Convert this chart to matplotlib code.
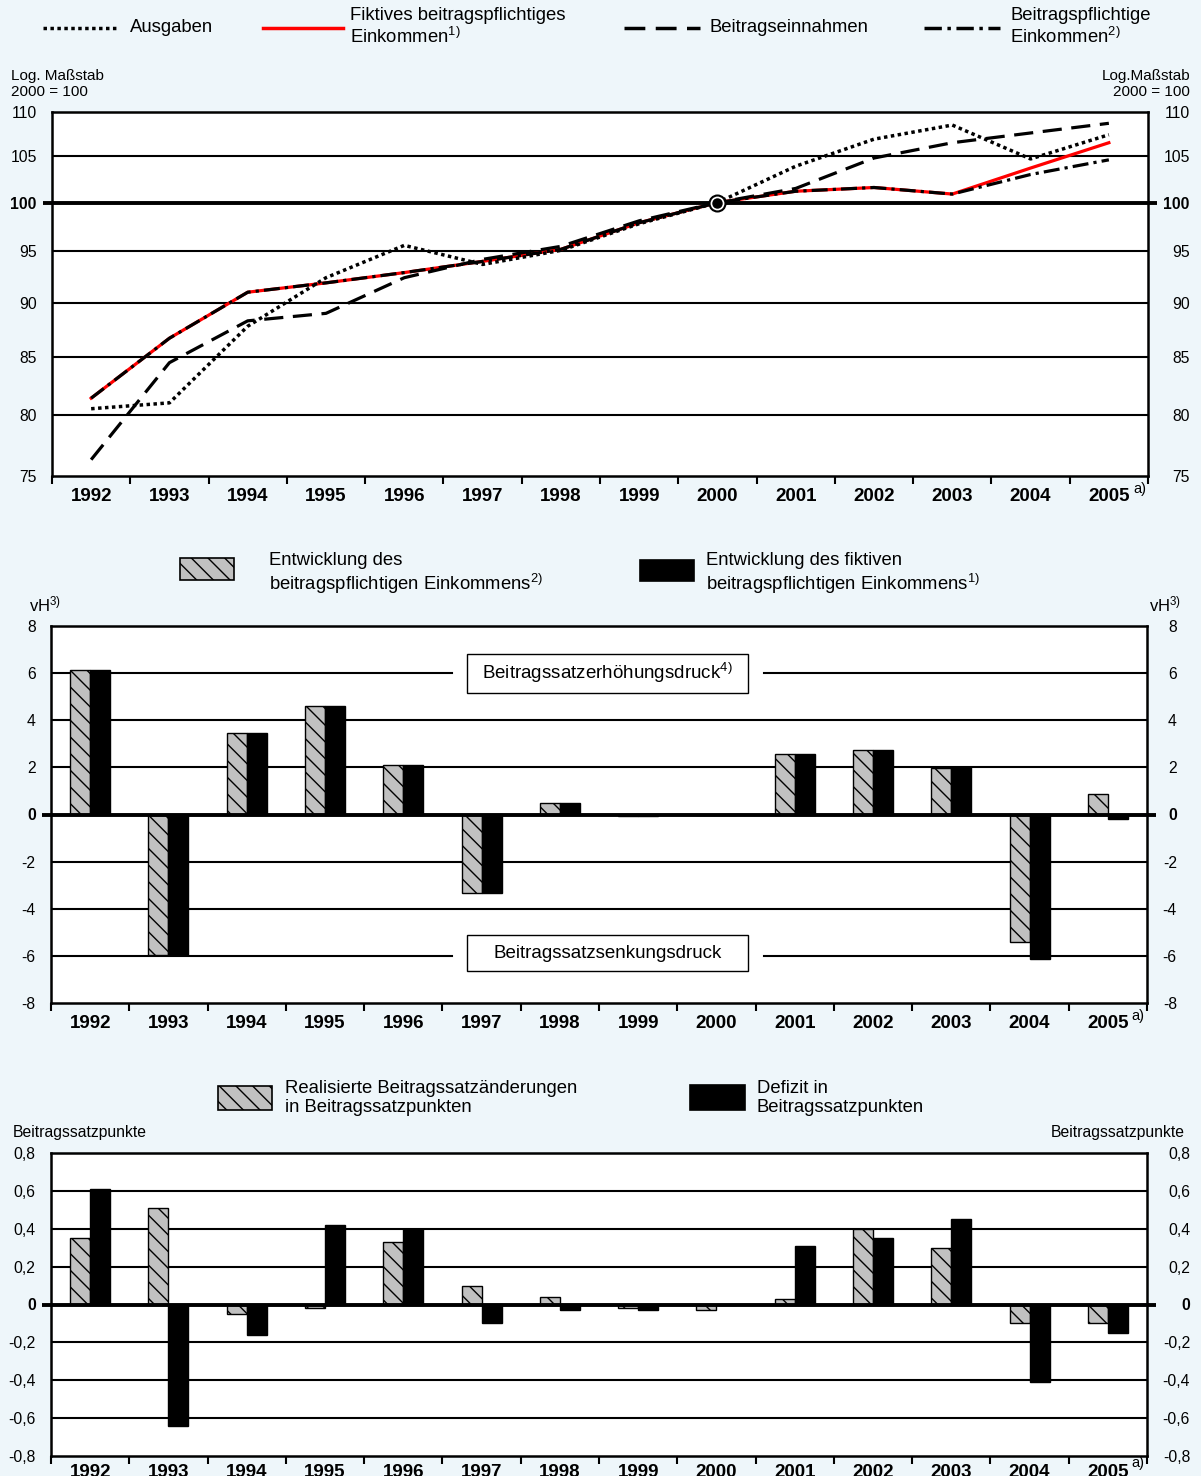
import matplotlib.pyplot as plt
import matplotlib.transforms as mtransforms
from matplotlib.lines import Line2D
from matplotlib.patches import Rectangle
import numpy as np

plt.rcParams['font.family'] = ['Liberation Sans', 'DejaVu Sans']
plt.rcParams['mathtext.fontset'] = 'custom'
plt.rcParams['mathtext.rm'] = 'Liberation Sans'
plt.rcParams['mathtext.it'] = 'Liberation Sans:italic'
plt.rcParams['mathtext.bf'] = 'Liberation Sans:bold'
plt.rcParams['hatch.linewidth'] = 1.0

W, H = 1201, 1476
HINTERGRUND = '#EEF6FA'
GRAU = '#C0C0C0'
SCHRAFFUR = '\\\\'

# Daten
jahre = list(range(1992, 2006))

# Index 2000 = 100
ausgaben = [80.5, 81.0, 87.8, 92.4, 95.6, 93.7, 95.1, 97.8, 100.0, 103.9, 106.9, 108.5, 104.7, 107.4]
fiktiv_einkommen = [81.4, 86.7, 91.0, 91.9, 92.9, 94.0, 95.2, 97.9, 100.0, 101.2, 101.6, 100.9, 103.7, 106.5]
beitragseinnahmen = [76.3, 84.5, 88.3, 89.0, 92.4, 94.2, 95.5, 98.1, 100.0, 101.5, 104.8, 106.5, 107.6, 108.7]
bpf_einkommen = [81.4, 86.7, 91.0, 91.9, 92.9, 94.0, 95.2, 97.9, 100.0, 101.2, 101.6, 100.9, 103.0, 104.6]

# vH
entw_bpf = [6.15, -5.95, 3.45, 4.62, 2.12, -3.32, 0.5, -0.05, 0.0, 2.55, 2.72, 1.96, -5.4, 0.89]
entw_fiktiv = [6.15, -5.95, 3.45, 4.62, 2.12, -3.32, 0.5, -0.05, 0.0, 2.55, 2.72, 2.0, -6.15, -0.2]

# Beitragssatzpunkte
realisiert = [0.35, 0.51, -0.05, -0.02, 0.33, 0.10, 0.04, -0.02, -0.03, 0.03, 0.40, 0.30, -0.10, -0.10]
defizit = [0.61, -0.64, -0.16, 0.42, 0.40, -0.10, -0.03, -0.03, 0.0, 0.31, 0.35, 0.45, -0.41, -0.15]

top_ticks = [75, 80, 85, 90, 95, 100, 105, 110]
mid_ticks = [-8, -6, -4, -2, 0, 2, 4, 6, 8]
bot_ticks = [-0.8, -0.6, -0.4, -0.2, 0, 0.2, 0.4, 0.6, 0.8]
bot_labels = ['-0,8', '-0,6', '-0,4', '-0,2', '0', '0,2', '0,4', '0,6', '0,8']


def box(l, t, r, b):
    return [l / W, 1 - b / H, (r - l) / W, (b - t) / H]


def fx(x):
    return x / W


def fy(y):
    return 1 - y / H


fig = plt.figure(figsize=(W / 100, H / 100), dpi=100, facecolor=HINTERGRUND)
x = np.arange(len(jahre))


def achsen_stil(ax, yticks, ylabels, null, pad_l, pad_r, xpad=8.5):
    for s in ax.spines.values():
        s.set_linewidth(1.8)
        s.set_color('black')
    ax.set_facecolor('white')
    ax.set_xlim(-0.5, len(jahre) - 0.5)
    ax.set_xticks(np.arange(len(jahre) + 1) - 0.5)
    ax.set_xticklabels([])
    ax.set_xticks(x, minor=True)
    ax.set_xticklabels([str(j) for j in jahre], minor=True, fontweight='bold', fontsize=13.5)
    ax.tick_params(axis='x', which='major', direction='out', length=6, width=1.5)
    ax.tick_params(axis='x', which='minor', length=0, pad=xpad)
    ax.yaxis.set_minor_locator(plt.NullLocator())
    ax.set_yticks(yticks)
    ax.set_yticklabels(ylabels)
    ax.yaxis.set_minor_formatter(plt.NullFormatter())
    ax.tick_params(axis='y', which='both', length=0, labelsize=11.3, left=False, right=False,
                   labelleft=True, labelright=True, pad=pad_l)
    for lab, v in zip(ax.get_yticklabels(), yticks):
        if v == null:
            lab.set_fontweight('bold')
    for t, v in zip(ax.yaxis.get_major_ticks(), yticks):
        t.label2.set_horizontalalignment('right')
        if v == null:
            t.label2.set_fontweight('bold')
    # rechte Beschriftung rechtsbündig weiter außen
    for t in ax.yaxis.get_major_ticks():
        t.label2.set_transform(t.label2.get_transform() +
                               mtransforms.ScaledTranslation((pad_r - pad_l) / 72, 0, fig.dpi_scale_trans))
    # Nulllinie mit Überstand
    ax.plot([-0.008, 1.008], [null, null], transform=ax.get_yaxis_transform(),
            color='black', lw=2.8, clip_on=False, zorder=4, solid_capstyle='butt')


# --------- Oberes Diagramm ---------
ax1 = fig.add_axes(box(52, 112, 1148, 476))
ax1.set_yscale('log')
ax1.set_ylim(75, 110)
for v in [80, 85, 90, 95, 105]:
    ax1.axhline(v, color='black', lw=1.5, zorder=1)
achsen_stil(ax1, top_ticks, [str(v) for v in top_ticks], 100, 11, 30)

ax1.plot(x, fiktiv_einkommen, color='#FF0000', lw=2.3, zorder=3)
ax1.plot(x, bpf_einkommen, color='black', lw=2.3, linestyle=(0, (5, 1.6, 1, 1.6)), zorder=3.2)
ax1.plot(x, beitragseinnahmen, color='black', lw=2.3, linestyle=(0, (6, 3)), zorder=3.1)
ax1.plot(x, ausgaben, color='black', lw=2.5, linestyle=(0, (1, 1)), zorder=3.3)
i2000 = jahre.index(2000)
ax1.plot(x[i2000], ausgaben[i2000], 'o', ms=11.5, mfc='white', mec='black', mew=1.5, zorder=5)
ax1.plot(x[i2000], ausgaben[i2000], 'o', ms=6.5, mfc='black', mec='black', zorder=6)

# Legende oben
leg_y = fy(28)
fig.add_artist(Line2D([fx(43), fx(118)], [leg_y, leg_y], color='black', lw=2.5, linestyle=(0, (1, 1))))
fig.add_artist(Line2D([fx(263), fx(343)], [leg_y, leg_y], color='#FF0000', lw=2.5))
fig.add_artist(Line2D([fx(624), fx(700)], [leg_y, leg_y], color='black', lw=2.5, linestyle=(0, (6, 3))))
fig.add_artist(Line2D([fx(924), fx(1000)], [leg_y, leg_y], color='black', lw=2.5,
                      linestyle=(0, (5, 1.6, 1, 1.6))))
fig.text(fx(130), leg_y, 'Ausgaben', fontsize=13.3, va='center')
fig.text(fx(350), fy(27), 'Fiktives beitragspflichtiges\nEinkommen$^{\\mathrm{1)}}$', fontsize=13.3,
         va='center', linespacing=1.15)
fig.text(fx(710), leg_y, 'Beitragseinnahmen', fontsize=13.3, va='center')
fig.text(fx(1010), fy(27), 'Beitragspflichtige\nEinkommen$^{\\mathrm{2)}}$', fontsize=13.3,
         va='center', linespacing=1.15)

fig.text(fx(11), fy(84), 'Log. Maßstab\n2000 = 100', fontsize=11, va='center', linespacing=1.25)
fig.text(fx(1190), fy(84), 'Log.Maßstab\n2000 = 100', fontsize=11, va='center', ha='right',
         multialignment='right', linespacing=1.25)
fig.text(fx(1133), fy(489), 'a)', fontsize=10.5, va='center')


# --------- Balkendiagramme ---------
def balken(ax, a, b):
    w = 0.255
    ax.bar(x - w / 2, a, w, color=GRAU, edgecolor='black', hatch=SCHRAFFUR, linewidth=1.0, zorder=3)
    ax.bar(x + w / 2, b, w, color='black', edgecolor='black', linewidth=1.0, zorder=3)


ax2 = fig.add_axes(box(51, 626, 1147, 1003))
ax2.set_ylim(-8, 8)
for v in [-4, -2, 2, 4]:
    ax2.axhline(v, color='black', lw=1.5, zorder=1)
for v in [-6, 6]:
    ax2.axhline(v, xmin=0, xmax=0.366, color='black', lw=1.5, zorder=1)
    ax2.axhline(v, xmin=0.651, xmax=1, color='black', lw=1.5, zorder=1)
achsen_stil(ax2, mid_ticks, [str(v) for v in mid_ticks], 0, 11, 21.5)
balken(ax2, entw_bpf, entw_fiktiv)

trans2 = mtransforms.blended_transform_factory(ax2.transAxes, ax2.transData)
ax2.add_patch(Rectangle((0.3796, 5.17), 0.636 - 0.3796, 1.66, transform=trans2,
                        facecolor='white', edgecolor='black', lw=1.0, zorder=5))
ax2.text(0.508, 6.0, 'Beitragssatzerhöhungsdruck$^{\\mathrm{4)}}$', transform=trans2,
         ha='center', va='center', fontsize=13.5, zorder=6)
ax2.add_patch(Rectangle((0.3796, -6.66), 0.636 - 0.3796, 1.53, transform=trans2,
                        facecolor='white', edgecolor='black', lw=1.0, zorder=5))
ax2.text(0.508, -5.9, 'Beitragssatzsenkungsdruck', transform=trans2,
         ha='center', va='center', fontsize=13.5, zorder=6)

fig.add_artist(Rectangle((fx(180), fy(580)), fx(54), 22 / H, facecolor=GRAU, edgecolor='black',
                         hatch=SCHRAFFUR, lw=1.2, transform=fig.transFigure))
fig.add_artist(Rectangle((fx(640), fy(581)), fx(54), 21 / H, facecolor='black', edgecolor='black',
                         lw=1.2, transform=fig.transFigure))
fig.text(fx(269), fy(574), 'Entwicklung des\nbeitragspflichtigen Einkommens$^{\\mathrm{2)}}$',
         fontsize=13.3, va='center', linespacing=1.15)
fig.text(fx(706), fy(574), 'Entwicklung des fiktiven\nbeitragspflichtigen Einkommens$^{\\mathrm{1)}}$',
         fontsize=13.3, va='center', linespacing=1.15)
fig.text(fx(29), fy(604), 'vH$^{\\mathrm{3)}}$', fontsize=12, va='center')
fig.text(fx(1181), fy(604), 'vH$^{\\mathrm{3)}}$', fontsize=12, va='center', ha='right')
fig.text(fx(1131), fy(1016), 'a)', fontsize=10.5, va='center')

ax3 = fig.add_axes(box(51, 1153, 1147, 1456))
ax3.set_ylim(-0.8, 0.8)
for v in [-0.6, -0.4, -0.2, 0.2, 0.4, 0.6]:
    ax3.axhline(v, color='black', lw=1.5, zorder=1)
achsen_stil(ax3, bot_ticks, bot_labels, 0, 11, 31, xpad=5.5)
balken(ax3, realisiert, defizit)

fig.add_artist(Rectangle((fx(218), fy(1110)), fx(54), 24 / H, facecolor=GRAU, edgecolor='black',
                         hatch=SCHRAFFUR, lw=1.2, transform=fig.transFigure))
fig.add_artist(Rectangle((fx(690), fy(1110)), fx(55), 25 / H, facecolor='black', edgecolor='black',
                         lw=1.2, transform=fig.transFigure))
fig.text(fx(285), fy(1098), 'Realisierte Beitragssatzänderungen\nin Beitragssatzpunkten',
         fontsize=13.3, va='center', linespacing=1.15)
fig.text(fx(757), fy(1098), 'Defizit in\nBeitragssatzpunkten', fontsize=13.3, va='center', linespacing=1.15)
fig.text(fx(13), fy(1133), 'Beitragssatzpunkte', fontsize=11.3, va='center')
fig.text(fx(1185), fy(1133), 'Beitragssatzpunkte', fontsize=11.3, va='center', ha='right')
fig.text(fx(1131), fy(1463), 'a)', fontsize=10.5, va='center')

fig.savefig('out.png', dpi=100, facecolor=HINTERGRUND)
